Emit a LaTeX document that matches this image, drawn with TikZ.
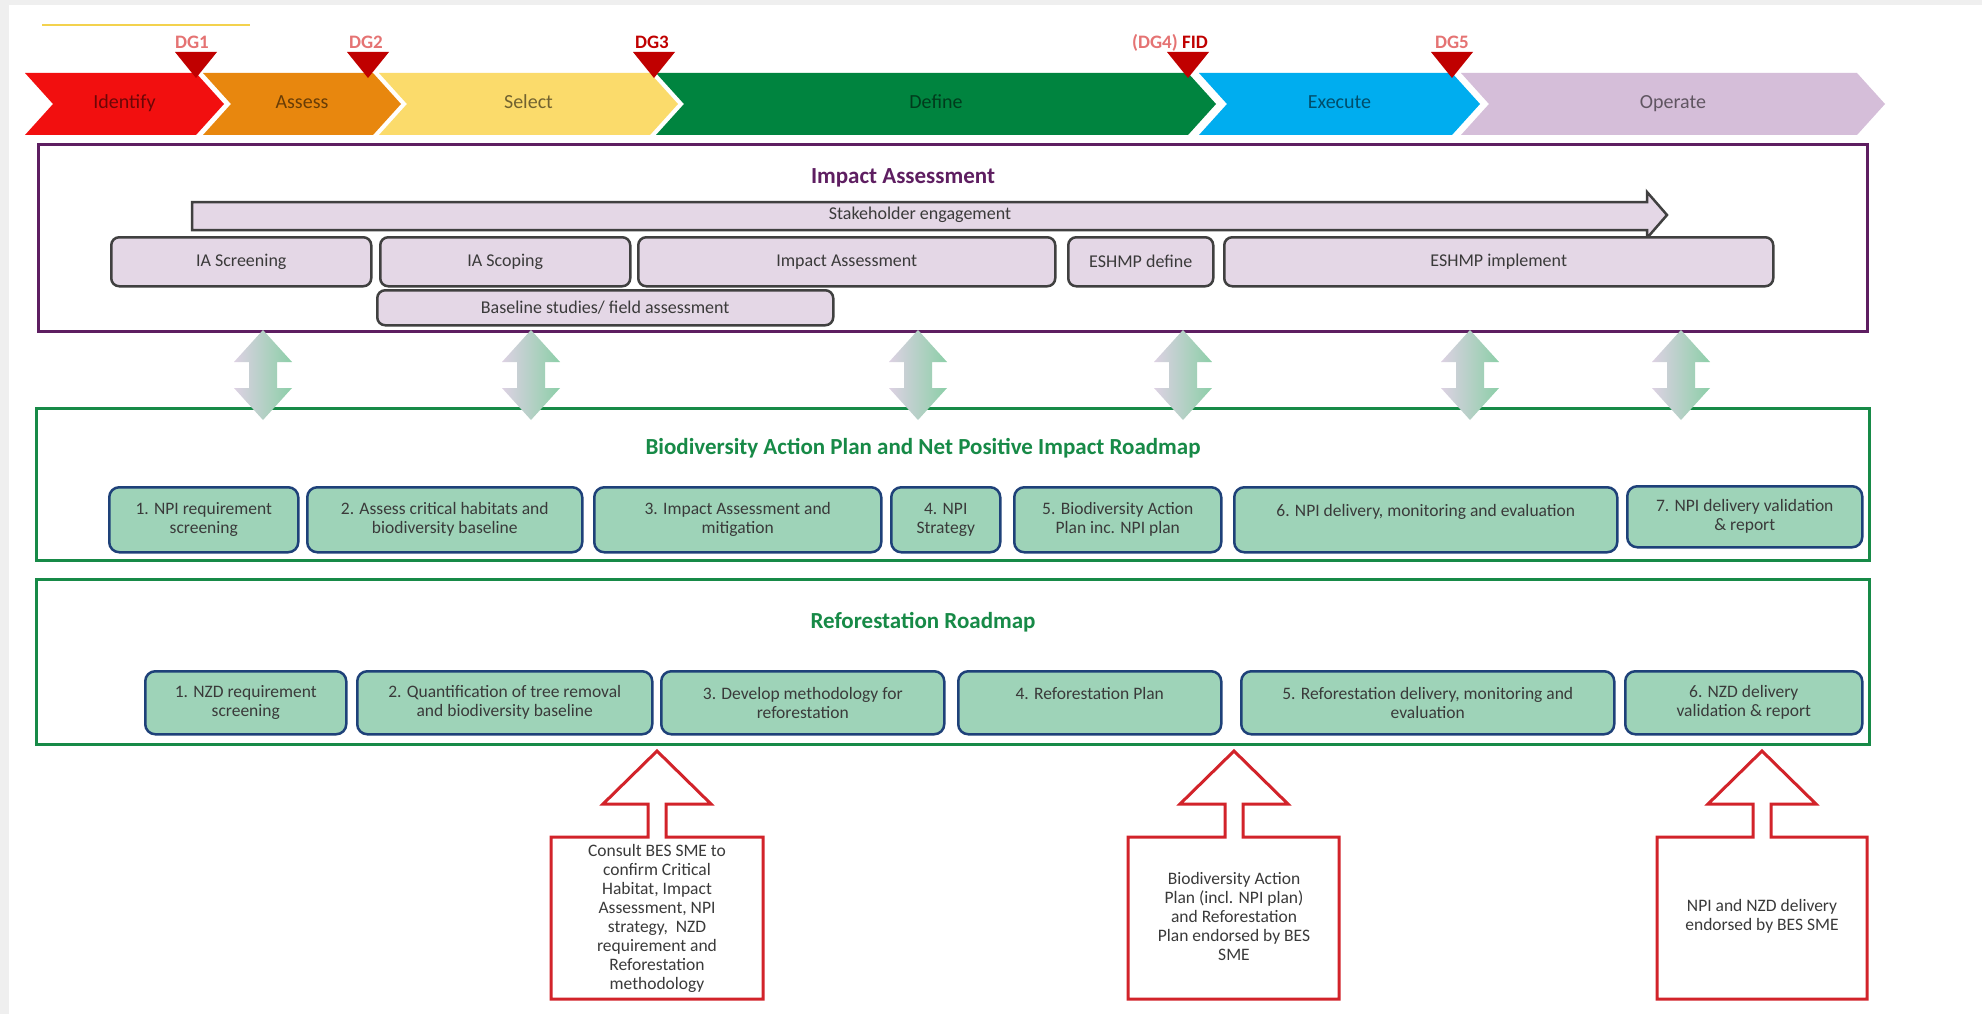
\documentclass[tikz,border=0pt]{standalone}
\usepackage{fontspec}
\setmainfont{Carlito}
\usepackage{xcolor}
\usepackage{tikz}
\usetikzlibrary{calc}

\definecolor{idred}{HTML}{F20F0F}
\definecolor{asorange}{HTML}{E8870E}
\definecolor{selyellow}{HTML}{FBDB6B}
\definecolor{defgreen}{HTML}{00843F}
\definecolor{execyan}{HTML}{00ADEF}
\definecolor{oplav}{HTML}{D5BED9}
\definecolor{dgred}{HTML}{C00000}
\definecolor{dgpink}{HTML}{E57373}
\definecolor{iapurple}{HTML}{5E1E61}
\definecolor{lavfill}{HTML}{E4D7E6}
\definecolor{boxgrey}{HTML}{404040}
\definecolor{bapgreen}{HTML}{178A47}
\definecolor{mint}{HTML}{9ED3B8}
\definecolor{navy}{HTML}{1E4179}
\definecolor{calred}{HTML}{D2232A}
\definecolor{txtgrey}{HTML}{3A3A3A}
\definecolor{framegrey}{HTML}{EFEFEF}
\definecolor{yline}{HTML}{F3D24E}
\definecolor{shlav}{HTML}{DDD1E3}
\definecolor{shgrn}{HTML}{8CCFA8}

\tikzset{
    phase/.style={font=\fontsize{20}{22}\selectfont, text=black, text opacity=0.55,
        text height=14, text depth=4},
    gatelbl/.style={anchor=base, font=\bfseries\fontsize{19}{21}\selectfont},
    lanebox/.style={anchor=north west, line width=3pt, inner sep=0pt},
    lanetitle/.style={font=\bfseries\fontsize{23}{26}\selectfont},
    iabox/.style={anchor=north west, draw=boxgrey, fill=lavfill, line width=2.5pt,
        rounded corners=8pt, minimum height=49, font=\fontsize{18}{19}\selectfont, text=txtgrey},
    npibox/.style={anchor=north west, draw=navy, fill=mint, line width=2.5pt,
        rounded corners=10pt, minimum height=65, align=center,
        font=\fontsize{17.5}{19}\selectfont, text=txtgrey},
    callout/.style={draw=calred, fill=white, line width=3pt},
    calltext/.style={align=center, font=\fontsize{17.5}{19}\selectfont, text=txtgrey}
}

\begin{document}
\begin{tikzpicture}[x=1pt, y=-1pt]

    \useasboundingbox (0,0) rectangle (1982,1014);
    \fill[framegrey] (0,0) rectangle (1982,1014);
    \fill[white] (9,5) rectangle (1982,1014);

    \draw[yline, line width=2pt] (42,25) -- (250,25);

    \foreach \xl/\xr/\col/\lab [count=\i] in {25/196/idred/Identify, 203/373/asorange/Assess,
        379/650/selyellow/Select, 656/1188/defgreen/Define, 1199/1452/execyan/Execute,
        1461/1857/oplav/Operate} {
        \fill[\col] (\xl,73) -- (\xr,73) -- (\xr+28,104) -- (\xr,135) -- (\xl,135) -- (\xl+28,104) -- cycle;
        \node[phase] (ph\i) at ({(\xl+\xr)/2+14},104) {\lab};
    }

    \foreach \x in {196,368,654,1188,1452} {
        \fill[dgred] (\x-21,52) -- (\x+21,52) -- (\x,78) -- cycle;
    }
    \node[gatelbl, text=dgpink] (dg1) at (192,49) {DG1};
    \node[gatelbl, text=dgpink] (dg2) at (366,49) {DG2};
    \node[gatelbl, text=dgred] (dg3) at (652,49) {DG3};
    \node[gatelbl] (dg4) at (1170,49) {\textcolor{dgpink}{(DG4)} \textcolor{dgred}{FID}};
    \node[gatelbl, text=dgpink] (dg5) at (1452,49) {DG5};

    \node[lanebox, draw=iapurple, minimum width=1829, minimum height=187] (ia) at (37,143) {};
    \node[lanetitle, text=iapurple] (iatitle) at (903,178) {Impact Assessment};

    \filldraw[fill=lavfill, draw=boxgrey, line width=2.5pt] (192,202) -- (1647,202) -- (1647,192)
        -- (1667,215) -- (1647,238) -- (1647,230) -- (192,230) -- cycle;
    \node[font=\fontsize{18}{19}\selectfont, text=txtgrey] (stake) at (920,215) {Stakeholder engagement};

    \node[iabox, minimum width=260] (iascr) at (110,236) {IA Screening};
    \node[iabox, minimum width=250] (iascp) at (379,236) {IA Scoping};
    \node[iabox, minimum width=417] (iaimp) at (637,236) {Impact Assessment};
    \node[iabox, minimum width=145] (eshd) at (1067,236) {ESHMP define};
    \node[iabox, minimum width=549] (eshi) at (1223,236) {ESHMP implement};
    \node[iabox, minimum width=456, minimum height=35] (base) at (376,289) {Baseline studies/ field assessment};

    \node[lanebox, draw=bapgreen, minimum width=1833, minimum height=152] (bap) at (35,407) {};
    \node[lanetitle, text=bapgreen] (baptitle) at (923,448) {Biodiversity Action Plan and Net Positive Impact Roadmap};

    \node[npibox, minimum width=189] (npi1) at (108,486) {1. NPI requirement\\screening};
    \node[npibox, minimum width=275] (npi2) at (306,486) {2. Assess critical habitats and\\biodiversity baseline};
    \node[npibox, minimum width=287] (npi3) at (593,486) {3. Impact Assessment and\\mitigation};
    \node[npibox, minimum width=109] (npi4) at (890,486) {4. NPI\\Strategy};
    \node[npibox, minimum width=207] (npi5) at (1013,486) {5. Biodiversity Action\\Plan inc. NPI plan};
    \node[npibox, minimum width=383] (npi6) at (1233,486) {6. NPI delivery, monitoring and evaluation\\ \mbox{}};
    \node[npibox, minimum width=235, minimum height=61] (npi7) at (1626,485) {7. NPI delivery validation\\\& report};

    \node[lanebox, draw=bapgreen, minimum width=1833, minimum height=165] (ref) at (35,578) {};
    \node[lanetitle, text=bapgreen] (reftitle) at (923,622) {Reforestation Roadmap};

    \node[npibox, minimum width=201, minimum height=63] (nzd1) at (144,670) {1. NZD requirement\\screening};
    \node[npibox, minimum width=295, minimum height=63] (nzd2) at (356,670) {2. Quantification of tree removal\\and biodiversity baseline};
    \node[npibox, minimum width=283, minimum height=63] (nzd3) at (660,670) {3. Develop methodology for\\reforestation};
    \node[npibox, minimum width=263, minimum height=63] (nzd4) at (957,670) {4. Reforestation Plan\\ \mbox{}};
    \node[npibox, minimum width=373, minimum height=63] (nzd5) at (1240,670) {5. Reforestation delivery, monitoring and\\evaluation};
    \node[npibox, minimum width=237, minimum height=63] (nzd6) at (1624,670) {6. NZD delivery\\validation \& report};

    \foreach \x in {263,531,918,1183,1470,1681} {
        \shade[left color=shlav, right color=shgrn] (\x,330) -- (\x+29,362) -- (\x+14,362) -- (\x+14,388)
            -- (\x+29,388) -- (\x,420) -- (\x-29,388) -- (\x-14,388) -- (\x-14,362) -- (\x-29,362) -- cycle;
    }

    \foreach \cx/\xl/\xr in {657/551/763, 1234/1128/1339, 1762/1657/1867} {
        \draw[callout] (\xl,999) -- (\xl,837) -- (\cx-9,837) -- (\cx-9,804) -- (\cx-54,804) -- (\cx,751)
            -- (\cx+54,804) -- (\cx+9,804) -- (\cx+9,837) -- (\xr,837) -- (\xr,999) -- cycle;
    }
    \node[calltext] (sme1) at (657,918) {Consult BES SME to\\confirm Critical\\Habitat, Impact\\Assessment, NPI\\strategy,~ NZD\\requirement and\\Reforestation\\methodology};
    \node[calltext] (sme2) at (1234,916) {Biodiversity Action\\Plan (incl. NPI plan)\\and Reforestation\\Plan endorsed by BES\\SME};
    \node[calltext] (sme3) at (1762,916) {NPI and NZD delivery\\endorsed by BES SME};

\end{tikzpicture}
\end{document}
